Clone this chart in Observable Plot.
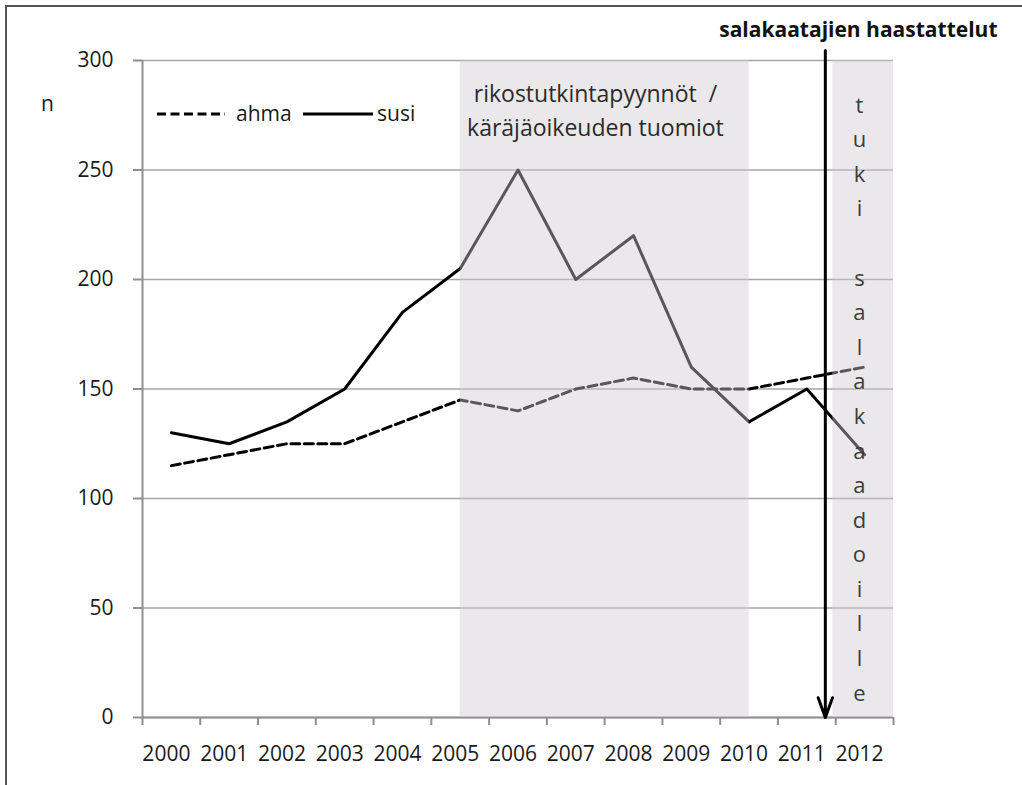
<!DOCTYPE html>
<html>
<head>
<meta charset="utf-8">
<script src="https://cdn.jsdelivr.net/npm/d3@7"></script>
<script src="https://cdn.jsdelivr.net/npm/@observablehq/plot@0.6"></script>
<style>
html, body { margin: 0; padding: 0; background: #fff; overflow: hidden; }
#wrap { position: relative; width: 1022px; height: 785px; overflow: hidden; font-family: "Open Sans", sans-serif; }
#frame { position: absolute; left: 5px; top: 5px; width: 2000px; height: 2000px; border-left: 2px solid #555; border-top: 2px solid #555; pointer-events: none; }
#chart { position: absolute; left: 0; top: 0; }
.leg { position: absolute; font-size: 21px; color: #1a1a1a; line-height: 20px; height: 20px; }
.leg svg { display: block; }
</style>
</head>
<body>
<div id="wrap">
  <div id="chart"></div>
  <div id="frame"></div>
  <div class="leg" style="left:157px; top:104px;"><svg width="68" height="20"><line x1="0" x2="68" y1="10" y2="10" stroke="#000" stroke-width="3" stroke-dasharray="9,4.5"/></svg></div>
  <div class="leg" style="left:236px; top:103px;">ahma</div>
  <div class="leg" style="left:303px; top:104px;"><svg width="70" height="20"><line x1="0" x2="70" y1="10" y2="10" stroke="#000" stroke-width="3"/></svg></div>
  <div class="leg" style="left:377px; top:103px;">susi</div>
</div>
<script>
// ---- data ----
const years = [2000, 2001, 2002, 2003, 2004, 2005, 2006, 2007, 2008, 2009, 2010, 2011, 2012];
const ahma  = [115, 120, 125, 125, 135, 145, 140, 150, 155, 150, 150, 155, 160];
const susi  = [130, 125, 135, 150, 185, 205, 250, 200, 220, 160, 135, 150, 120];
const yTicks = [0, 50, 100, 150, 200, 250, 300];
const bandEdges = [1999.5, 2000.5, 2001.5, 2002.5, 2003.5, 2004.5, 2005.5, 2006.5, 2007.5, 2008.5, 2009.5, 2010.5, 2011.5, 2012.5];
// shaded periods (in years)
const shadeStart = [2005, 2011.45];
const shadeEnd   = [2010, 2012.5];
const shadeText  = ["rikostutkintapyynnöt\u00a0 /\nkäräjäoikeuden tuomiot",
                    "t\nu\nk\ni\n\ns\na\nl\na\nk\na\na\nd\no\ni\nl\nl\ne"];
const shadeTextX = [2007.34, 2011.91];
const shadeTextY = [278.4, 147.0];
const shadeTextLH = [1.52, 1.572];
const shadeTextSize = [23, 22];
// interview arrow
const arrowYear = [2011.32];
const arrowTop = 304.6;
const arrowLabel = "salakaatajien haastattelut";

const ahmaData = years.map((y, i) => ({year: y, value: ahma[i]}));
const susiData = years.map((y, i) => ({year: y, value: susi[i]}));
const shades = shadeStart.map((s, i) => ({x1: s, x2: shadeEnd[i]}));
const labels = shadeText.map((t, i) => ({text: t, x: shadeTextX[i], y: shadeTextY[i]}));

const plot = Plot.plot({
  width: 1022,
  height: 785,
  marginLeft: 142,
  marginRight: 129,
  marginTop: 60,
  marginBottom: 68,
  style: {fontFamily: "'Open Sans', sans-serif", fontSize: "21px", color: "#1a1a1a", background: "transparent"},
  x: {type: "linear", domain: [1999.5, 2012.5]},
  y: {domain: [0, 300]},
  marks: [
    Plot.gridY(yTicks, {stroke: "#a6a6a6", strokeOpacity: 1, strokeWidth: 1.5}),
    Plot.axisY(yTicks, {tickSize: 9, tickPadding: 20, stroke: "#8f8f8f", strokeWidth: 2, fill: "#1a1a1a", label: null}),
    Plot.axisX(bandEdges, {tickSize: 8, tickFormat: () => "", stroke: "#8f8f8f", strokeWidth: 2, label: null}),
    Plot.axisX(years, {tickSize: 0, tickPadding: 29, tickFormat: d => String(d), dx: -5, fill: "#1a1a1a", label: null}),
    Plot.ruleX([1999.5], {stroke: "#8f8f8f", strokeWidth: 2}),
    Plot.ruleY([0], {stroke: "#8f8f8f", strokeWidth: 2}),
    Plot.line(ahmaData, {x: "year", y: "value", stroke: "#000", strokeWidth: 3, strokeDasharray: "9,4.5"}),
    Plot.line(susiData, {x: "year", y: "value", stroke: "#000", strokeWidth: 3}),
    Plot.rect(shades, {x1: "x1", x2: "x2", y1: 0, y2: 300, fill: "rgb(206,201,206)", fillOpacity: 0.43}),
    Plot.text(labels.slice(0, 1), {x: "x", y: "y", text: "text", lineHeight: shadeTextLH[0], fill: "#2b2b2b", fontSize: shadeTextSize[0]}),
    Plot.text(labels.slice(1), {x: "x", y: "y", text: "text", lineHeight: shadeTextLH[1], fill: "#3c3c3c", fontSize: shadeTextSize[1]}),
    Plot.arrow(arrowYear, {x1: d => d, x2: d => d, y1: arrowTop, y2: 0, stroke: "#000", strokeWidth: 3, headLength: 10.5, headAngle: 40}),
    Plot.text([arrowLabel], {frameAnchor: "top-right", dx: 104, dy: -30, textAnchor: "end", lineAnchor: "middle", fontWeight: "bold", fill: "#111", fontSize: 21}),
    Plot.text(["n"], {frameAnchor: "top-left", dx: -95, dy: 44, textAnchor: "middle", lineAnchor: "middle", fill: "#1a1a1a", fontSize: 21})
  ]
});
document.getElementById("chart").appendChild(plot);
</script>
</body>
</html>
